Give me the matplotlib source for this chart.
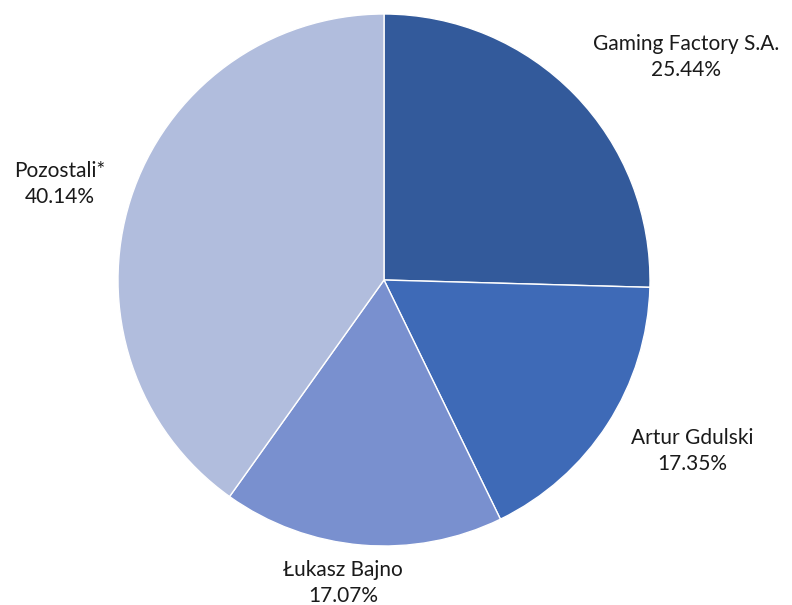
import matplotlib.pyplot as plt

names = ["Gaming Factory S.A.", "Artur Gdulski", "Łukasz Bajno", "Pozostali*"]
shares = [25.44, 17.35, 17.07, 40.14]
colors = ["#335A9B", "#3E6AB7", "#7990CF", "#B1BDDD"]
# label anchor points (pixels, from top-left)
label_xy = [(686, 57), (692, 451), (343, 583), (60, 184)]

plt.rcParams['font.family'] = ['Lato', 'DejaVu Sans']

fig = plt.figure(figsize=(7.92, 6.05), dpi=100)
ax = fig.add_axes([0, 0, 1, 1])

ax.pie(shares, colors=colors, startangle=90, counterclock=False,
       center=(384, 605 - 280), radius=266,
       wedgeprops=dict(edgecolor='white', linewidth=1.0), frame=True)
ax.set_xlim(0, 792)
ax.set_ylim(0, 605)
ax.set_aspect('equal')
ax.axis('off')

for n, s, (x, y) in zip(names, shares, label_xy):
    ax.text(x, 605 - y, f"{n}\n{s:.2f}%", ha='center', va='center',
            fontsize=15, color='#1a1a1a', linespacing=1.35)

fig.savefig("out.png", dpi=100)
